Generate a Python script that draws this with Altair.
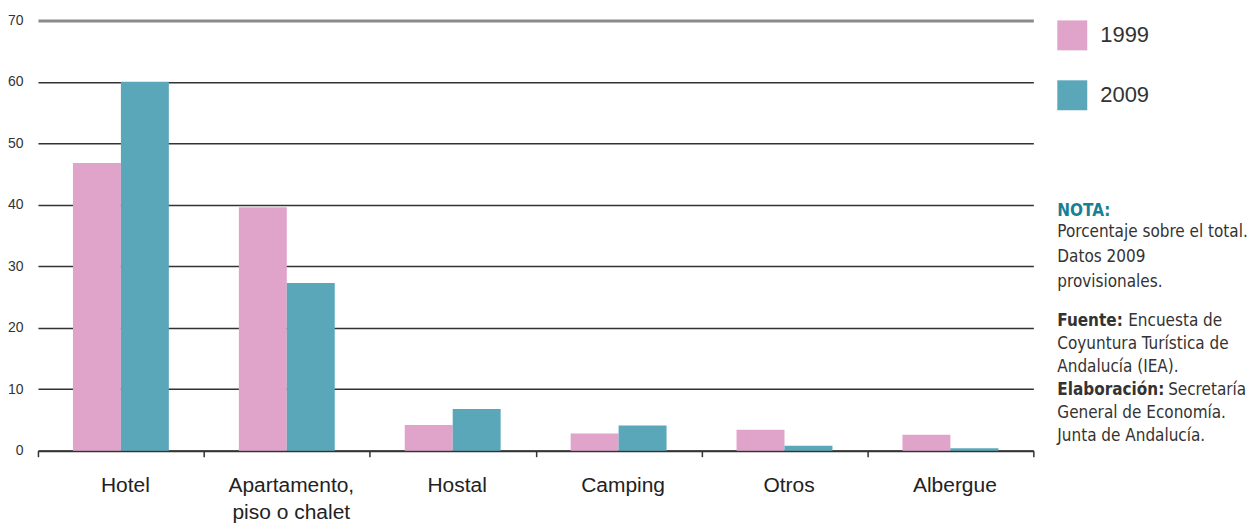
import altair as alt
import pandas as pd

categories = ["Hotel", "Apartamento,\npiso o chalet", "Hostal", "Camping", "Otros", "Albergue"]
years = ["1999", "2009"]
values_1999 = [46.8, 39.6, 4.2, 2.8, 3.4, 2.6]
values_2009 = [60.0, 27.3, 6.8, 4.1, 0.8, 0.4]
colors = ["#E0A4CA", "#5BA7BA"]
y_ticks = [0, 10, 20, 30, 40, 50, 60, 70]

nota_title = "NOTA:"
nota_text = "Porcentaje sobre el total.\nDatos 2009\nprovisionales."
fuente_label = "Fuente:"
fuente_first = "Encuesta de"
fuente_rest = "Coyuntura Turística de\nAndalucía (IEA)."
elab_label = "Elaboración:"
elab_first = "Secretaría"
elab_rest = "General de Economía.\nJunta de Andalucía."

rows = []
for c, a, b in zip(categories, values_1999, values_2009):
    rows.append({"categoria": c, "anio": years[0], "valor": a})
    rows.append({"categoria": c, "anio": years[1], "valor": b})
df = pd.DataFrame(rows)

W, H = 997, 431
FONT = "Liberation Sans"
NOTE_FONT = "DejaVu Sans Condensed, Roboto, sans-serif"

bars = alt.Chart(df).mark_bar().encode(
    x=alt.X(
        "categoria:N", sort=categories, title=None,
        scale=alt.Scale(paddingInner=0, paddingOuter=0),
        axis=alt.Axis(
            labelExpr="isValid(datum.value) ? split(datum.value, '\\n') : ''",
            labelAngle=0, labelFontSize=21, labelOffset=4,
            labelFont=FONT, labelColor="#222", labelPadding=18, labelLineHeight=27,
            labelBaseline="top", tickSize=6, tickColor="#333", tickWidth=1.5,
            tickBand="extent", domainColor="#333", domainWidth=2, grid=False,
        ),
    ),
    xOffset=alt.XOffset("anio:N", sort=years,
                        scale=alt.Scale(paddingInner=0, paddingOuter=0.73)),
    y=alt.Y(
        "valor:Q", title=None, scale=alt.Scale(domain=[0, 70], nice=False),
        axis=alt.Axis(
            values=y_ticks, tickSize=0, domain=False, labelPadding=15,
            labelFontSize=14, labelFont=FONT, labelColor="#333", grid=True,
            gridColor=alt.condition("datum.value == 70", alt.value("#8a8a8a"), alt.value("#333333")),
            gridWidth=alt.condition("datum.value == 70", alt.value(3), alt.value(1.5)),
        ),
    ),
    color=alt.Color(
        "anio:N", sort=years, scale=alt.Scale(domain=years, range=colors),
        legend=alt.Legend(
            title=None, orient="none", legendX=1021, legendY=0, symbolType="square",
            symbolSize=900, symbolStrokeWidth=0, symbolOpacity=1, labelFontSize=22,
            labelFont=FONT, labelColor="#333", rowPadding=30, labelOffset=13, padding=0,
        ),
    ),
)


def note(text, x, y, bold=False, color="#333", lh=23):
    return alt.Chart(pd.DataFrame({"t": [text]})).mark_text(
        align="left", baseline="alphabetic", font=NOTE_FONT, fontSize=17,
        fontWeight="bold" if bold else "normal", color=color, lineBreak="\n",
        lineHeight=lh,
    ).encode(x=alt.value(x), y=alt.value(y), text="t:N")


NX = 1021
layers = [
    bars,
    note(nota_title, NX, 196, bold=True, color="#1a7f93"),
    note(nota_text, NX, 217, lh=25),
    note(fuente_label, NX, 306, bold=True),
    note(fuente_first, NX + 71, 306),
    note(fuente_rest, NX, 329),
    note(elab_label, NX, 375, bold=True),
    note(elab_first, NX + 111, 375),
    note(elab_rest, NX, 398),
]

chart = alt.layer(*layers).properties(
    width=W, height=H,
    autosize=alt.AutoSizeParams(type="none"),
    padding={"left": 30, "top": 12, "right": 215, "bottom": 74},
).configure_view(stroke=None)

chart.save("out.html", embed_options={"renderer": "svg", "actions": False})
